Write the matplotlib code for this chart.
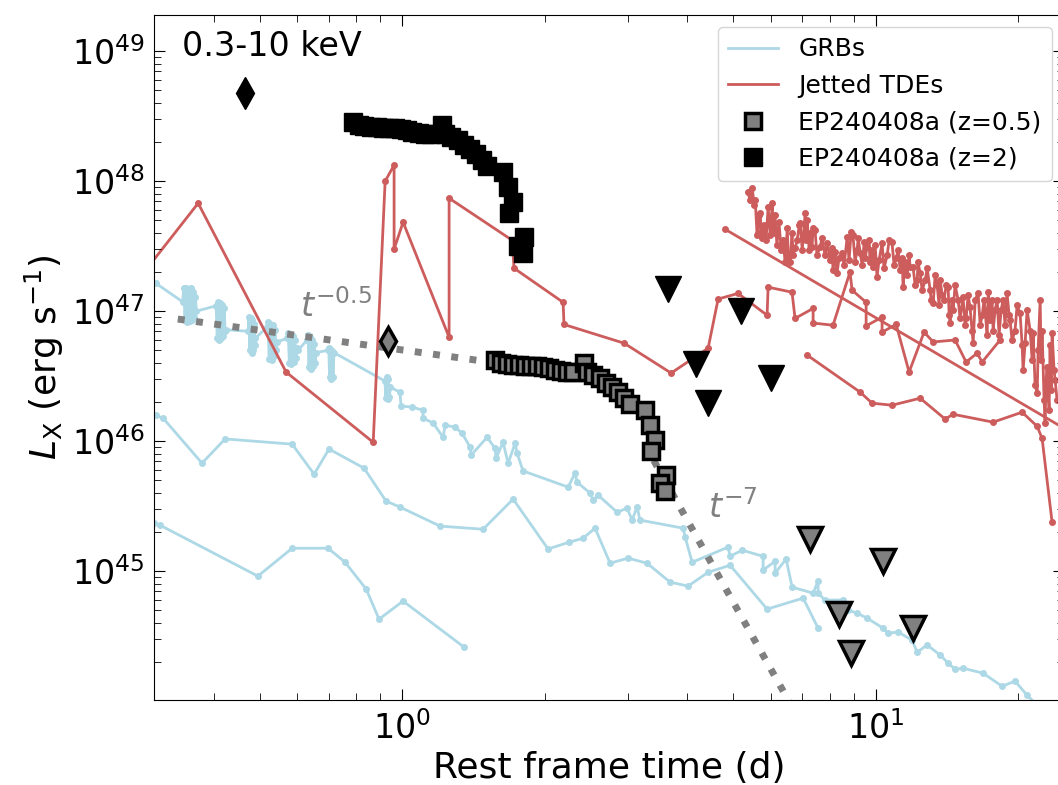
import matplotlib
matplotlib.use("Agg")
import matplotlib.pyplot as plt
from matplotlib.lines import Line2D
import numpy as np

# ---- GRB X-ray light curves (rest frame days, L_X in 1e45 erg/s) ----
grb1_t = [0.302,
          0.344, 0.346, 0.348, 0.350, 0.352, 0.354, 0.356, 0.358, 0.360, 0.362, 0.364, 0.366, 0.368,
          0.405, 0.407, 0.409, 0.411, 0.413, 0.415, 0.417, 0.419, 0.421, 0.423, 0.425,
          0.473, 0.475, 0.477, 0.479, 0.481, 0.483, 0.485, 0.487, 0.489, 0.490,
          0.518, 0.521, 0.524, 0.527, 0.530, 0.533, 0.536, 0.539, 0.542, 0.545,
          0.572, 0.575, 0.578, 0.581, 0.584, 0.587, 0.590, 0.594, 0.597, 0.600, 0.603,
          0.630, 0.633, 0.636, 0.639, 0.642, 0.645, 0.648, 0.652, 0.655, 0.658,
          0.697, 0.700, 0.703, 0.706, 0.709, 0.712, 0.715, 0.718,
          0.920, 0.924, 0.928, 0.932, 0.936, 0.940, 0.945,
          0.990, 0.995, 1.050, 1.107, 1.107, 1.163, 1.221, 1.233, 1.294, 1.339,
          1.392, 1.399, 1.512, 1.572, 1.580, 1.634, 1.675, 1.733, 1.749, 1.801,
          2.242, 2.319, 2.342, 2.495, 2.532, 2.594, 2.845, 2.987, 3.060, 3.135,
          3.181, 3.922, 3.961, 4.098, 4.882, 4.929, 5.226, 5.787, 5.787, 6.135,
          6.135, 6.471, 6.664, 7.379, 7.561, 7.561, 7.823, 8.539, 8.748, 9.139,
          9.594, 10.37, 10.63, 11.16, 11.94, 12.24, 12.85, 13.69, 14.23, 14.72,
          15.30, 16.87, 18.50, 19.70, 20.89, 21.72]
grb1_L = [164,
          118, 150, 86, 152, 83, 148, 84, 150, 86, 140, 90, 128, 100,
          110, 62, 117, 60, 115, 62, 112, 64, 105, 70, 72,
          70, 90, 50, 88, 48, 85, 50, 80, 55, 62,
          75, 82, 43, 80, 42, 78, 45, 72, 50, 58,
          62, 68, 40, 66, 39, 64, 41, 60, 44, 52, 50,
          60, 65, 37, 63, 36, 60, 38, 56, 40, 48,
          50, 52, 31, 51, 30, 49, 31, 48,
          29, 21.5, 31, 21, 30, 22, 26,
          23.8, 18.6, 18.3, 17.3, 15.0, 13.8, 10.7, 13.3, 12.8, 11.5,
          9.0, 7.8, 10.7, 8.8, 7.4, 9.8, 6.77, 9.65, 8.1, 5.9,
          4.43, 5.67, 4.84, 3.98, 3.52, 3.84, 2.84, 3.05, 2.47, 3.11,
          2.47, 2.14, 1.83, 1.17, 1.53, 1.30, 1.45, 1.30, 1.02, 1.19,
          0.965, 1.24, 0.753, 0.677, 0.838, 0.677, 0.598, 0.60, 0.501, 0.475,
          0.435, 0.364, 0.333, 0.34, 0.294, 0.238, 0.27, 0.226, 0.196, 0.176,
          0.179, 0.164, 0.130, 0.1425, 0.111, 0.0965]

grb2_t = [0.302, 0.313, 0.378, 0.423, 0.586, 0.652, 0.701, 0.831, 0.925, 0.990,
          1.203, 1.483, 1.716, 2.034, 2.253, 2.411, 2.556, 2.750, 3.001, 3.291,
          3.681, 4.018, 4.429, 4.929, 5.901, 7.031, 7.561]
grb2_L = [15.8, 15.0, 6.77, 10.4, 9.48, 5.57, 8.7, 6.2, 3.46, 3.11,
          2.22, 2.10, 3.58, 1.48, 1.67, 1.79, 2.14, 1.15, 1.26, 1.15,
          0.823, 0.767, 0.98, 1.11, 0.51, 0.62, 0.364]

grb3_t = [0.300, 0.308, 0.496, 0.586, 0.698, 0.758, 0.840, 0.894, 1.005, 1.352]
grb3_L = [2.35, 2.26, 0.915, 1.50, 1.50, 1.17, 0.727, 0.427, 0.588, 0.26]

# ---- jetted TDE light curves (rest frame days, L_X in 1e46 erg/s) ----
tde1_t = [0.28, 0.371, 0.569, 0.869, 0.921, 0.962, 0.962, 1.005, 1.257, 1.257,
          1.707, 1.724, 2.188, 2.198, 2.944, 3.700, 4.429, 4.650, 5.124, 5.90,
          5.93, 6.66, 6.76, 7.38, 7.38, 8.13, 8.83, 8.92, 9.55, 9.55,
          10.32, 10.32, 11.05, 11.77, 12.66, 13.23, 14.72, 15.53, 16.38, 16.79,
          18.32]
tde1_L = [18.3, 67.7, 3.40, 0.98, 100, 133, 30, 48.4, 6.3, 74,
          35.2, 21.4, 11.7, 7.9, 5.67, 3.34, 5.19, 12.4, 13.7, 9.3,
          15.3, 14.0, 8.8, 10.5, 8.1, 7.8, 20, 14.5, 11.7, 7.7,
          9.0, 6.9, 7.9, 3.40, 6.9, 5.8, 6.0, 4.06, 4.75, 4.06,
          6.0]

tde2_t = [5.38, 5.43, 5.49, 5.54, 5.57, 5.62, 5.65, 5.68, 5.70, 5.76,
          5.81, 5.87, 5.93, 5.99, 6.05, 6.07, 6.13, 6.19, 6.25, 6.32,
          6.38, 6.44, 6.51, 6.54, 6.60, 6.66, 6.70, 6.76, 6.83, 6.90,
          6.93, 7.00, 7.10, 7.13, 7.17, 7.24, 7.27, 7.34, 7.38, 7.45,
          7.52, 7.63, 7.71, 7.82, 7.90, 8.02, 8.09, 8.13, 8.21, 8.29,
          8.37, 8.50, 8.58, 8.71, 8.79, 8.88, 8.96, 9.05, 9.14, 9.19,
          9.28, 9.37, 9.46, 9.50, 9.60, 9.69, 9.73, 9.83, 9.88, 9.98,
          10.07, 10.17, 10.32, 10.42, 10.58, 10.68, 10.83, 10.94, 11.05, 11.16,
          11.27, 11.38, 11.43, 11.54, 11.66, 11.77, 11.83, 12.00, 12.12, 12.24,
          12.29, 12.42, 12.54, 12.73, 12.85, 13.04, 13.10, 13.23, 13.36, 13.49,
          13.62, 13.69, 13.82, 13.95, 14.09, 14.23, 14.30, 14.37, 14.51, 14.58,
          14.72, 14.94, 15.08, 15.30, 15.45, 15.53, 15.68, 15.83, 15.99, 16.07,
          16.23, 16.46, 16.63, 16.79, 16.95, 17.03, 17.20, 17.29, 17.46, 17.62,
          17.71, 17.88, 18.06, 18.23, 18.41, 18.59, 18.77, 18.95, 19.14, 19.23,
          19.42, 19.70, 19.90, 20.19, 20.39, 20.49, 20.69, 20.89, 21.20, 21.41,
          21.51, 21.72, 21.94, 22.04, 22.26, 22.36, 22.47, 22.69, 22.80, 22.91,
          23.02, 23.25, 23.36, 23.48, 23.59, 23.82, 23.94, 24.17]
tde2_L = [82.3, 71.4, 88.4, 65.4, 71.4, 38.4, 39.8, 54.8, 56.7, 36.4,
          45.9, 35.2, 63.1, 38.4, 67.7, 39.8, 54.8, 32.2, 48.4, 29.5,
          35.2, 23.8, 43.5, 25.6, 23.8, 39.8, 27.0, 30.5, 35.2, 45.9,
          47.5, 29.5, 56.7, 35.2, 50.1, 29.5, 39.8, 31.1, 43.5, 42.0,
          27.0, 31.1, 36.4, 27.0, 33.3, 24.7, 30.5, 20.7, 28.4, 19.6,
          25.6, 27.9, 22.6, 37.1, 24.7, 40.5, 38.4, 23.8, 29.5, 36.4,
          27.9, 22.6, 33.9, 25.6, 31.1, 35.2, 23.8, 29.5, 21.8, 32.2,
          18.3, 24.7, 33.3, 21.4, 27.0, 35.2, 33.9, 22.6, 25.6, 29.5,
          20.7, 25.6, 15.3, 23.8, 18.9, 27.0, 21.8, 21.8, 15.8, 17.3,
          23.8, 19.6, 14.5, 17.3, 21.4, 14.5, 12.2, 11.5, 18.9, 15.8,
          11.1, 17.3, 13.3, 12.2, 15.8, 15.3, 9.3, 8.1, 12.2, 10.2,
          15.8, 12.2, 8.8, 12.8, 7.8, 8.8, 13.3, 10.7, 7.1, 5.67,
          12.2, 13.8, 7.8, 9.3, 12.2, 10.2, 6.54, 14.0, 8.5, 12.2,
          7.1, 10.2, 12.2, 6.54, 10.2, 12.2, 7.8, 13.8, 9.3, 8.5,
          5.98, 7.1, 11.1, 9.65, 5.5, 3.52, 5.67, 10.2, 7.1, 4.2,
          6.8, 2.70, 2.34, 5.01, 12.2, 4.2, 7.1, 2.07, 1.38, 2.94,
          3.71, 1.73, 5.5, 2.47, 6.8, 3.52, 2.94, 2.07]

tde3_t = [4.81, 30.0]
tde3_L = [42.7, 0.85]

tde4_t = [7.17, 9.28, 9.83, 10.83, 12.42, 14.02, 14.58, 17.71, 20.39, 21.94, 22.47, 23.59]
tde4_L = [4.59, 2.38, 1.96, 1.89, 2.14, 1.48, 1.61, 1.40, 1.67, 1.30, 1.05, 0.238]

# ---- EP240408a ----
ep05_t = [1.572, 1.619, 1.666, 1.716, 1.767, 1.819, 1.873, 1.928, 1.985, 2.044,
          2.104, 2.167, 2.231, 2.297, 2.423, 2.459, 2.532, 2.620, 2.697, 2.777,
          2.859, 2.944, 3.030, 3.262, 3.342, 3.422, 3.357, 3.611, 3.506, 3.593]
ep05_L = [4.20, 3.98, 3.91, 3.84, 3.84, 3.78, 3.78, 3.78, 3.71, 3.65,
          3.52, 3.45, 3.40, 3.40, 3.98, 3.40, 3.22, 3.05, 2.79, 2.60,
          2.38, 2.14, 1.93, 1.73, 1.33, 1.02, 0.84, 0.55, 0.48, 0.41]  # 1e46

ep2_t = [0.786, 0.810, 0.833, 0.858, 0.884, 0.910, 0.937, 0.964, 0.993, 1.022,
         1.052, 1.084, 1.116, 1.149, 1.212, 1.230, 1.266, 1.310, 1.349, 1.389,
         1.430, 1.472, 1.515, 1.631, 1.671, 1.711, 1.679, 1.806, 1.753, 1.797]
ep2_L = [2.84, 2.69, 2.64, 2.60, 2.60, 2.56, 2.56, 2.56, 2.51, 2.47,
         2.38, 2.33, 2.30, 2.30, 2.69, 2.30, 2.18, 2.06, 1.89, 1.76,
         1.61, 1.45, 1.30, 1.17, 0.90, 0.69, 0.57, 0.37, 0.32, 0.28]  # 1e48

# upper limits
ul05_t = [7.27, 10.37, 8.37, 12.0, 8.88]
ul05_L = [1.76, 1.19, 0.467, 0.364, 0.234]  # 1e45
ul2_t = [3.646, 5.20, 4.18, 6.02, 4.43]
ul2_L = [14.8, 10.0, 3.91, 3.05, 1.96]  # 1e46

# early points (diamonds)
dia05_t, dia05_L = [0.934], [5.9e46]
dia2_t, dia2_L = [0.466], [4.75e48]

# power-law guides (end points)
pl1_t, pl1_L = [0.336, 1.55], [8.7e46, 4.04e46]
pl2_t, pl2_L = [3.4, 6.8], [7.1e45, 7.9e43]

grb_c = "lightblue"
tde_c = "indianred"

plt.rcParams.update({
    "xtick.direction": "in", "ytick.direction": "in",
    "xtick.top": True, "ytick.right": True,
    "xtick.major.size": 8, "ytick.major.size": 8,
    "xtick.minor.size": 5, "ytick.minor.size": 5,
    "xtick.minor.visible": True, "ytick.minor.visible": True,
})

fig = plt.figure(figsize=(10.58, 7.85), dpi=100)
ax = fig.add_axes([0.146, 0.1083, 0.8597, 0.8726])

for t, L in [(grb1_t, grb1_L), (grb2_t, grb2_L), (grb3_t, grb3_L)]:
    ax.plot(t, np.array(L) * 1e45, "-o", color=grb_c, lw=2, ms=4, zorder=1)
for t, L in [(tde1_t, tde1_L), (tde2_t, tde2_L), (tde3_t, tde3_L), (tde4_t, tde4_L)]:
    ax.plot(t, np.array(L) * 1e46, "-o", color=tde_c, lw=2, ms=4, zorder=1.5)

ax.plot(pl1_t, pl1_L, ls=":", color="gray", lw=5, zorder=2)
ax.plot(pl2_t, pl2_L, ls=":", color="gray", lw=5, zorder=2)

ax.plot(ul2_t, np.array(ul2_L) * 1e46, "v", color="black", ms=19, zorder=3)
ax.plot(ul05_t, np.array(ul05_L) * 1e45, "v", mfc="gray", mec="black", mew=2.5,
        ms=17, zorder=3)

ax.plot(dia2_t, dia2_L, "d", color="black", ms=16, zorder=4)
ax.plot(dia05_t, dia05_L, "d", mfc="gray", mec="black", mew=2.5, ms=14, zorder=4)

sq05, = ax.plot(ep05_t, np.array(ep05_L) * 1e46, "s", mfc="gray", mec="black",
                mew=2.5, ms=12, ls="none", zorder=5)
sq2, = ax.plot(ep2_t, np.array(ep2_L) * 1e48, "s", color="black", ms=13.5,
               ls="none", zorder=5)

ax.text(0.609, 9.0e46, r"$t^{-0.5}$", color="gray", fontsize=24, va="baseline")
ax.text(4.43, 2.56e45, r"$t^{-7}$", color="gray", fontsize=24, va="baseline")
ax.text(0.03, 0.978, "0.3-10 keV", transform=ax.transAxes, ha="left", va="top",
        fontsize=24)

ax.set_xscale("log")
ax.set_yscale("log")
ax.set_xlim(0.3, 25)
ax.set_ylim(1.02e44, 1.9e49)
ax.tick_params(axis="both", which="major", labelsize=24)
ax.tick_params(axis="x", pad=8)
ax.tick_params(axis="y", pad=7)
ax.set_xlabel("Rest frame time (d)", fontsize=26)
ax.set_ylabel(r"$L_{\rm X}$ (erg s$^{-1}$)", fontsize=26)

handles = [Line2D([], [], color=grb_c, lw=2), Line2D([], [], color=tde_c, lw=2), sq05, sq2]
labels = ["GRBs", "Jetted TDEs", "EP240408a (z=0.5)", "EP240408a (z=2)"]
ax.legend(handles, labels, loc="upper right", fontsize=18)

fig.savefig("out.png", dpi=100)
